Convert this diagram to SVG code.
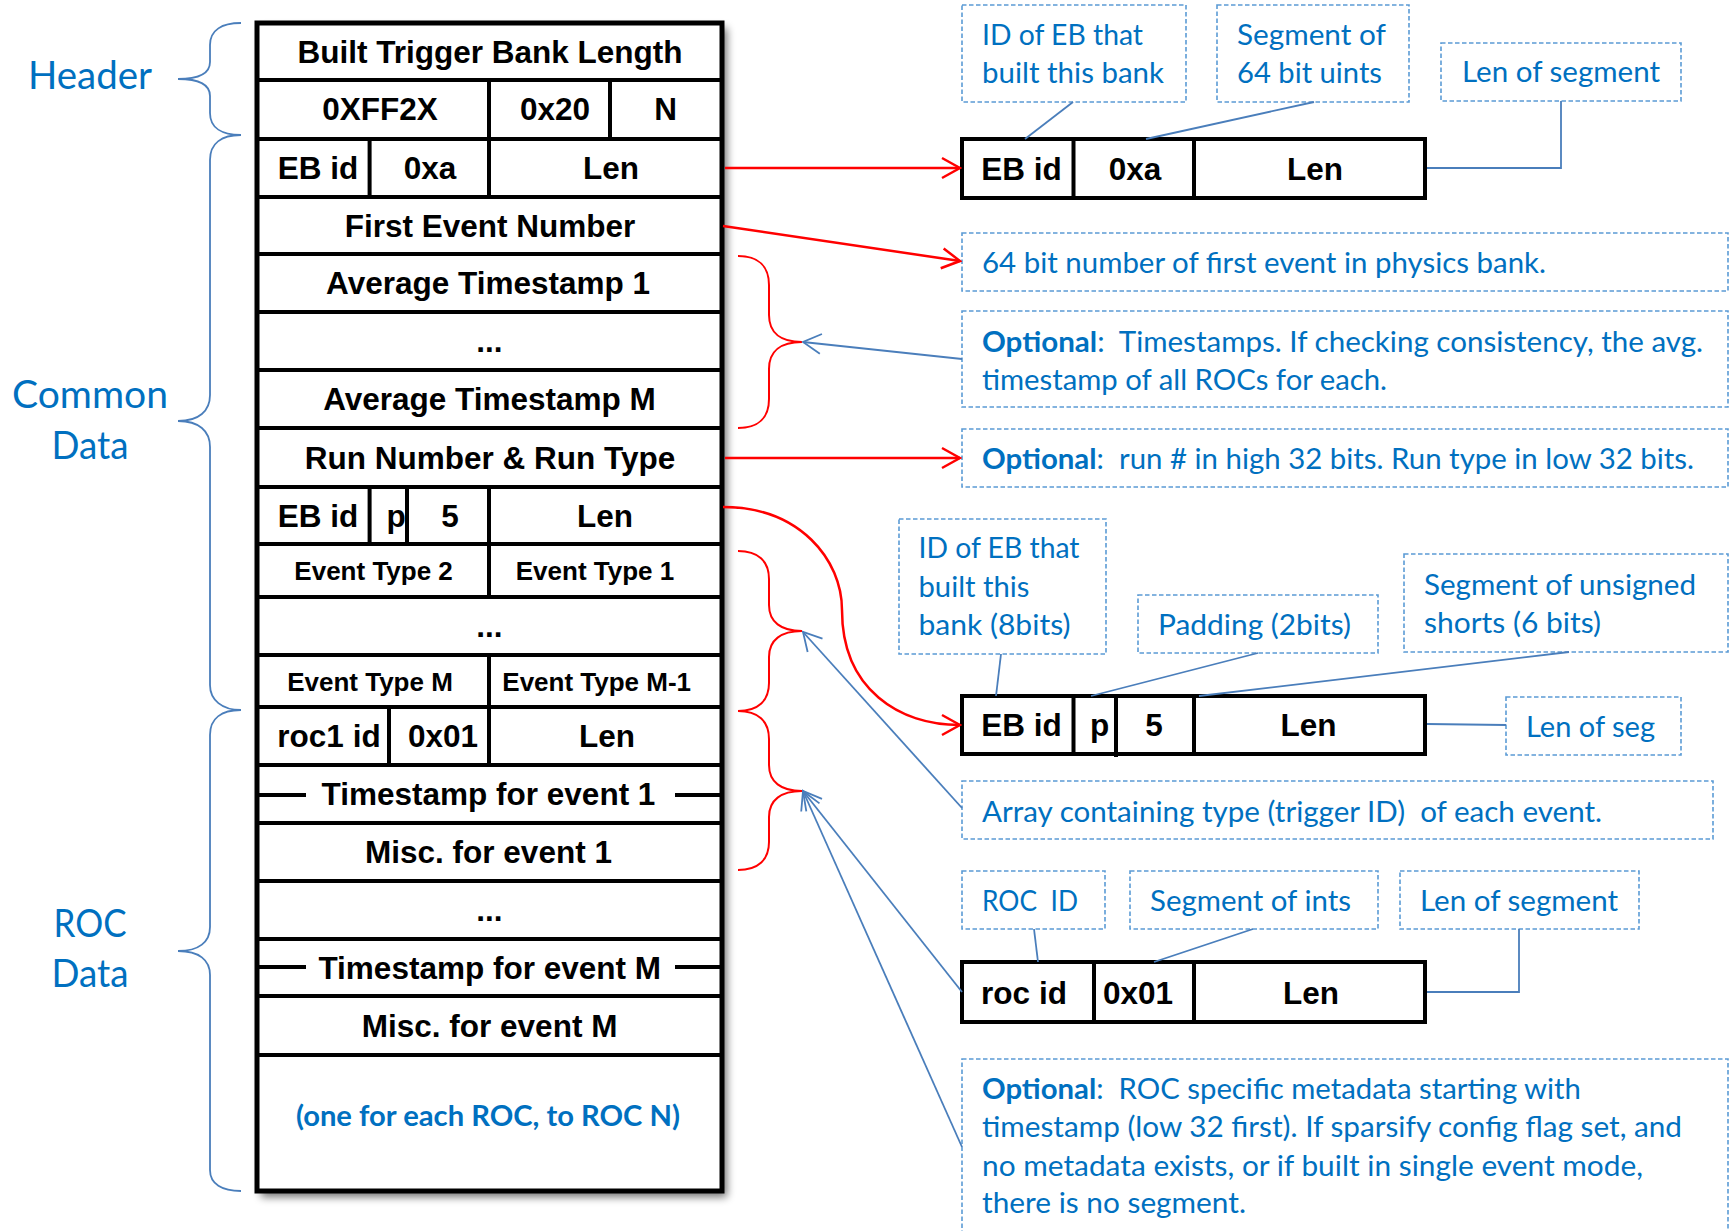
<svg xmlns="http://www.w3.org/2000/svg" width="1730" height="1231" viewBox="0 0 1730 1231">
  <defs>
    <style>
      .tb { font-family: "Liberation Sans", Arial, sans-serif; font-weight: bold; font-size: 31.5px; text-anchor: middle; fill: #000; }
      .tbs { font-size: 26px; }
      .grid { stroke: #000; stroke-width: 4; fill: none; }
      .frame { stroke: #000; stroke-width: 5; fill: #fff; }
      .note { font-family: Lato, "Open Sans", sans-serif; font-size: 29px; fill: #0070C0; white-space: pre; }
      .note b, .bold { font-weight: bold; }
      .side { font-family: Lato, "Open Sans", sans-serif; font-size: 38px; fill: #0070C0; text-anchor: middle; }
      .dash { fill: none; stroke: #5B9BD5; stroke-width: 1.6; stroke-dasharray: 4.5 2.5; }
      .lead { fill: none; stroke: #4A7EBB; stroke-width: 1.8; }
      .lbrace { fill: none; stroke: #4A7EBB; stroke-width: 1.8; }
      .rbrace { fill: none; stroke: #FF0000; stroke-width: 2; }
      .red { fill: none; stroke: #FF0000; stroke-width: 2.5; marker-end: url(#redHead); }
      .blue { fill: none; stroke: #4A7EBB; stroke-width: 1.8; marker-end: url(#blueHead); }
    </style>
    <marker id="redHead" viewBox="0 0 22 24" refX="20" refY="12" markerWidth="22" markerHeight="24" markerUnits="userSpaceOnUse" orient="auto">
      <path d="M2,2 L20,12 L2,22" fill="none" stroke="#FF0000" stroke-width="2.5"/>
    </marker>
    <marker id="blueHead" viewBox="0 0 22 24" refX="20" refY="12" markerWidth="22" markerHeight="24" markerUnits="userSpaceOnUse" orient="auto">
      <path d="M2,2 L20,12 L2,22" fill="none" stroke="#4A7EBB" stroke-width="1.8"/>
    </marker>
    <filter id="shadow" x="-10%" y="-10%" width="130%" height="130%">
      <feGaussianBlur stdDeviation="4"/>
    </filter>
  </defs>

  <rect width="1730" height="1231" fill="#fff"/>

  <!-- side labels with curly braces -->
  <g id="section-header">
    <path class="lbrace" d="M241,23 C222,23 210,30 210,45 L210,62 C210,73 199,79 178,79 C199,79 210,85 210,96 L210,113 C210,128 222,135 241,135"/>
    <text class="side" x="90" y="89" textLength="124" lengthAdjust="spacingAndGlyphs">Header</text>
  </g>
  <g id="section-common">
    <path class="lbrace" d="M241,135 C222,135 210,143 210,160 L210,395 C210,411 199,421 178,421 C199,421 210,431 210,447 L210,685 C210,700 222,710 241,710"/>
    <text class="side" x="90" y="408" textLength="156" lengthAdjust="spacingAndGlyphs">Common</text>
    <text class="side" x="90" y="459" textLength="77" lengthAdjust="spacingAndGlyphs">Data</text>
  </g>
  <g id="section-roc">
    <path class="lbrace" d="M241,710 C222,710 210,718 210,735 L210,927 C210,942 199,951 178,951 C199,951 210,960 210,975 L210,1170 C210,1184 222,1191 241,1191"/>
    <text class="side" x="90" y="937" textLength="73" lengthAdjust="spacingAndGlyphs">ROC</text>
    <text class="side" x="90" y="987" textLength="77" lengthAdjust="spacingAndGlyphs">Data</text>
  </g>

  <!-- the built trigger bank layout -->
  <g id="trigger-bank">
    <rect x="261" y="28" width="466" height="1169" fill="#000" opacity="0.55" filter="url(#shadow)"/>
    <rect class="frame" x="257" y="23" width="465" height="1168"/>
    <path class="grid" d="M257,80H722 M257,139H722 M257,197H722 M257,254H722 M257,312H722 M257,370H722 M257,428H722 M257,487H722 M257,544H722 M257,597H722 M257,655H722 M257,707H722 M257,765H722 M257,823H722 M257,881H722 M257,939H722 M257,996H722 M257,1055H722"/>
    <path class="grid" d="M489,80V139 M610,80V139 M369.6,139V197 M489,139V197 M369.6,487V544 M407,487V544 M489,487V544 M489,544V597 M489,655V707 M389,707V765 M489,707V765"/>
    <path class="grid" d="M259,795H306 M675,795H720 M259,967H306 M675,967H720"/>
    <text class="tb" x="490" y="63">Built Trigger Bank Length</text>
    <text class="tb" x="380" y="120">0XFF2X</text>
    <text class="tb" x="555" y="120">0x20</text>
    <text class="tb" x="665.5" y="120">N</text>
    <text class="tb" x="318" y="179">EB id</text>
    <text class="tb" x="430" y="179">0xa</text>
    <text class="tb" x="611" y="179">Len</text>
    <text class="tb" x="490" y="237">First Event Number</text>
    <text class="tb" x="488" y="294">Average Timestamp 1</text>
    <text class="tb" x="489.5" y="352">...</text>
    <text class="tb" x="489.5" y="410">Average Timestamp M</text>
    <text class="tb" x="490" y="469">Run Number &amp; Run Type</text>
    <text class="tb" x="318" y="527">EB id</text>
    <text class="tb" x="396" y="527">p</text>
    <text class="tb" x="450" y="527">5</text>
    <text class="tb" x="605" y="527">Len</text>
    <text class="tb tbs" x="373.6" y="580">Event Type 2</text>
    <text class="tb tbs" x="595" y="580">Event Type 1</text>
    <text class="tb" x="489.5" y="637">...</text>
    <text class="tb tbs" x="370" y="691">Event Type M</text>
    <text class="tb tbs" x="596.7" y="691">Event Type M-1</text>
    <text class="tb" x="329" y="747">roc1 id</text>
    <text class="tb" x="443" y="747">0x01</text>
    <text class="tb" x="607" y="747">Len</text>
    <text class="tb" x="488.5" y="805">Timestamp for event 1</text>
    <text class="tb" x="488.5" y="863">Misc. for event 1</text>
    <text class="tb" x="489.5" y="921">...</text>
    <text class="tb" x="489.7" y="979">Timestamp for event M</text>
    <text class="tb" x="489.6" y="1037">Misc. for event M</text>
    <text class="note bold" x="296" y="1126" textLength="384" lengthAdjust="spacingAndGlyphs">(one for each ROC, to ROC N)</text>
  </g>

  <!-- red braces grouping table rows -->
  <g id="brace-timestamps">
    <path class="rbrace" d="M738,256 C758,256 769,266 769,285 L769,315 C769,333 781,342 802,342 C781,342 769,351 769,369 L769,399 C769,418 758,428 738,428"/>
  </g>
  <g id="brace-event-types">
    <path class="rbrace" d="M738,551 C758,551 769,561 769,579 L769,605 C769,622 781,631 802,631 C781,631 769,640 769,657 L769,683 C769,701 758,711 738,711"/>
  </g>
  <g id="brace-roc-event">
    <path class="rbrace" d="M738,711 C758,711 769,721 769,739 L769,765 C769,782 781,791 802,791 C781,791 769,800 769,817 L769,842 C769,860 758,870 738,870"/>
  </g>

  <!-- segment header detail: EB id / 0xa / Len -->
  <g id="seg-64">
    <rect x="962" y="139" width="463" height="59" fill="#fff" stroke="#000" stroke-width="4"/>
    <path class="grid" d="M1073.5,139V198 M1194,139V198"/>
    <text class="tb" x="1021.5" y="180">EB id</text>
    <text class="tb" x="1135" y="180">0xa</text>
    <text class="tb" x="1315" y="180">Len</text>
  </g>
  <g id="note-ebid-top">
    <rect class="dash" x="962" y="5" width="224" height="97"/>
    <text class="note" x="982" y="45" textLength="161" lengthAdjust="spacingAndGlyphs">ID of EB that</text>
    <text class="note" x="982" y="83" textLength="182" lengthAdjust="spacingAndGlyphs">built this bank</text>
  </g>
  <g id="note-seg64">
    <rect class="dash" x="1217" y="5" width="192" height="97"/>
    <text class="note" x="1237" y="45" textLength="149" lengthAdjust="spacingAndGlyphs">Segment of</text>
    <text class="note" x="1237" y="83" textLength="145" lengthAdjust="spacingAndGlyphs">64 bit uints</text>
  </g>
  <g id="note-len-top">
    <rect class="dash" x="1441" y="43" width="240" height="58"/>
    <text class="note" x="1462" y="82" textLength="198" lengthAdjust="spacingAndGlyphs">Len of segment</text>
  </g>
  <g id="note-first-event">
    <rect class="dash" x="962" y="233" width="766" height="58"/>
    <text class="note" x="982" y="273" textLength="564" lengthAdjust="spacingAndGlyphs">64 bit number of first event in physics bank.</text>
  </g>
  <g id="note-timestamps">
    <rect class="dash" x="962" y="311" width="766" height="96"/>
    <text class="note" x="982" y="352" textLength="721" lengthAdjust="spacingAndGlyphs"><tspan class="bold">Optional</tspan>:  Timestamps. If checking consistency, the avg.</text>
    <text class="note" x="982" y="390" textLength="405" lengthAdjust="spacingAndGlyphs">timestamp of all ROCs for each.</text>
  </g>
  <g id="note-run">
    <rect class="dash" x="962" y="429" width="766" height="58"/>
    <text class="note" x="982" y="469" textLength="712" lengthAdjust="spacingAndGlyphs"><tspan class="bold">Optional</tspan>:  run # in high 32 bits. Run type in low 32 bits.</text>
  </g>

  <!-- segment header detail: EB id / p / 5 / Len -->
  <g id="seg-16">
    <rect x="962" y="696" width="463" height="58" fill="#fff" stroke="#000" stroke-width="4"/>
    <path class="grid" d="M1073.5,696V754 M1116,696V757 M1194,696V754"/>
    <text class="tb" x="1021.5" y="736">EB id</text>
    <text class="tb" x="1099.5" y="736">p</text>
    <text class="tb" x="1154" y="736">5</text>
    <text class="tb" x="1308.5" y="736">Len</text>
  </g>
  <g id="note-ebid-mid">
    <rect class="dash" x="899" y="519" width="207" height="135"/>
    <text class="note" x="918.5" y="558" textLength="161" lengthAdjust="spacingAndGlyphs">ID of EB that</text>
    <text class="note" x="918.5" y="597" textLength="111" lengthAdjust="spacingAndGlyphs">built this</text>
    <text class="note" x="918.5" y="635" textLength="152" lengthAdjust="spacingAndGlyphs">bank (8bits)</text>
  </g>
  <g id="note-padding">
    <rect class="dash" x="1138" y="595" width="240" height="58"/>
    <text class="note" x="1158" y="635" textLength="193" lengthAdjust="spacingAndGlyphs">Padding (2bits)</text>
  </g>
  <g id="note-seg16">
    <rect class="dash" x="1404" y="554" width="324" height="98"/>
    <text class="note" x="1424" y="595" textLength="272" lengthAdjust="spacingAndGlyphs">Segment of unsigned</text>
    <text class="note" x="1424" y="633" textLength="177" lengthAdjust="spacingAndGlyphs">shorts (6 bits)</text>
  </g>
  <g id="note-len-mid">
    <rect class="dash" x="1506" y="697" width="175" height="58"/>
    <text class="note" x="1526" y="737" textLength="129" lengthAdjust="spacingAndGlyphs">Len of seg</text>
  </g>
  <g id="note-event-types">
    <rect class="dash" x="962" y="781" width="751" height="58"/>
    <text class="note" x="982" y="822" textLength="620" lengthAdjust="spacingAndGlyphs">Array containing type (trigger ID)  of each event.</text>
  </g>

  <!-- segment header detail: roc id / 0x01 / Len -->
  <g id="seg-32">
    <rect x="962" y="962" width="463" height="60" fill="#fff" stroke="#000" stroke-width="4"/>
    <path class="grid" d="M1094,962V1022 M1194,962V1022"/>
    <text class="tb" x="1024" y="1004">roc id</text>
    <text class="tb" x="1138" y="1004">0x01</text>
    <text class="tb" x="1311" y="1004">Len</text>
  </g>
  <g id="note-rocid">
    <rect class="dash" x="962" y="871" width="143" height="58"/>
    <text class="note" x="982" y="911" textLength="96" lengthAdjust="spacingAndGlyphs">ROC  ID</text>
  </g>
  <g id="note-seg32">
    <rect class="dash" x="1130" y="871" width="248" height="58"/>
    <text class="note" x="1150" y="911" textLength="201" lengthAdjust="spacingAndGlyphs">Segment of ints</text>
  </g>
  <g id="note-len-bottom">
    <rect class="dash" x="1400" y="871" width="239" height="58"/>
    <text class="note" x="1420" y="911" textLength="198" lengthAdjust="spacingAndGlyphs">Len of segment</text>
  </g>
  <g id="note-roc-meta">
    <rect class="dash" x="962" y="1059" width="766" height="190"/>
    <text class="note" x="982" y="1099" textLength="599" lengthAdjust="spacingAndGlyphs"><tspan class="bold">Optional</tspan>:  ROC specific metadata starting with</text>
    <text class="note" x="982" y="1137" textLength="700" lengthAdjust="spacingAndGlyphs">timestamp (low 32 first). If sparsify config flag set, and</text>
    <text class="note" x="982" y="1176" textLength="661" lengthAdjust="spacingAndGlyphs">no metadata exists, or if built in single event mode,</text>
    <text class="note" x="982" y="1213" textLength="264" lengthAdjust="spacingAndGlyphs">there is no segment.</text>
  </g>

  <!-- connectors -->
  <g id="connectors">
    <path class="red" d="M725,168 L960,168"/>
    <path class="red" d="M723,226 L960,261"/>
    <path class="red" d="M725,458 L960,458"/>
    <path class="red" d="M723,507 C800,507 842,560 842,610 C842,690 900,725 960,725"/>

    <path class="blue" d="M962,359 L803,342"/>
    <path class="blue" d="M962,808 L803,632"/>
    <path class="blue" d="M962,992 L803,791"/>
    <path class="blue" d="M962,1147 L803,791"/>

    <path class="lead" d="M1073,102 L1025,139"/>
    <path class="lead" d="M1314,102 L1146,139"/>
    <path class="lead" d="M1561,101 L1561,168 L1427,168"/>
    <path class="lead" d="M1001,654 L996,696"/>
    <path class="lead" d="M1258,653 L1091,696"/>
    <path class="lead" d="M1569,652 L1199,696"/>
    <path class="lead" d="M1427,724 L1506,725"/>
    <path class="lead" d="M1034,929 L1038,962"/>
    <path class="lead" d="M1253,929 L1154,962"/>
    <path class="lead" d="M1519,929 L1519,992 L1427,992"/>
  </g>
</svg>
